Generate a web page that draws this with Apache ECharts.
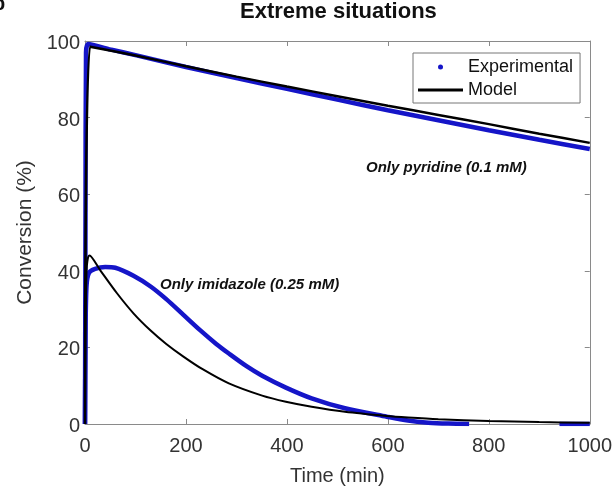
<!DOCTYPE html>
<html>
<head>
<meta charset="utf-8">
<script src="https://cdn.jsdelivr.net/npm/echarts@6/dist/echarts.min.js"></script>
<style>
  html, body {margin: 0; padding: 0; background: #fff;}
  #main {width: 615px; height: 491px;}
</style>
</head>
<body>
<div id="main"></div>
<script>
var myChart = echarts.init(document.getElementById('main'));

var fontName = 'Liberation Sans, Arial, sans-serif';

// x ticks / y ticks
var timeTicks = [0, 200, 400, 600, 800, 1000];
var convTicks = [0, 20, 40, 60, 80, 100];

// only pyridine (0.1 mM)
var pyrExpTime = [0, 1, 2, 6, 50, 100, 200, 300, 400, 500, 600, 700, 800, 900, 1000];
var pyrExpConv = [0, 55, 97, 99.2, 97.8, 96.3, 93.2, 90.3, 87.5, 84.7, 81.9, 79.3, 76.7, 74.2, 71.8];
var pyrModelTime = [0, 10, 100, 200, 300, 400, 500, 600, 700, 800, 900, 1000];
var pyrModelConv = [0, 98.5, 96.2, 93.4, 90.7, 88.1, 85.6, 83.1, 80.7, 78.3, 75.8, 73.4];

// only imidazole (0.25 mM)
var imiExpTime = [0, 1, 3, 8, 20, 40, 60, 96, 130, 161, 195, 228, 260, 285, 320, 351, 398, 449, 515, 598, 640, 680, 720, 761, 850, 940, 1000];
var imiExpConv = [0, 22, 36, 39.5, 40.5, 41, 40.8, 38.7, 35.9, 32.6, 28.5, 24.5, 20.9, 18.4, 15.1, 12.6, 9.5, 6.7, 4.1, 1.9, 0.9, 0.35, 0.1, 0, null, 0, 0];
var imiModelTime = [0, 3, 9, 31, 63, 96, 130, 161, 195, 233, 285, 351, 398, 449, 515, 598, 640, 700, 800, 900, 1000];
var imiModelConv = [0, 40, 44, 40, 34.2, 28.9, 24.4, 20.9, 17.6, 14.3, 10.6, 7.4, 5.8, 4.5, 3.2, 2.1, 1.7, 1.25, 0.8, 0.5, 0.3];

function pairs(xs, ys) {
    var arr = [];
    for (var i = 0; i < xs.length; i++) {
        arr.push([xs[i], ys[i]]);
    }
    return arr;
}

var boxLine = {show: true, onZero: false, lineStyle: {color: '#8a8a8a', width: 1}};
var tickIn = {show: true, inside: true, length: 5, lineStyle: {color: '#8a8a8a'}};

option = {
    animation: false,
    backgroundColor: '#fff',
    title: {
        text: 'Extreme situations',
        left: 240,
        top: 1,
        padding: 0,
        textStyle: {fontFamily: fontName, fontSize: 22, fontWeight: 'bold', color: '#111'}
    },
    legend: {
        orient: 'vertical',
        left: 413,
        top: 53,
        padding: [5, 7, 4, 5],
        itemGap: 5,
        itemWidth: 45,
        itemHeight: 5,
        borderColor: '#777',
        borderWidth: 1,
        borderRadius: 0,
        backgroundColor: '#fff',
        textStyle: {fontFamily: fontName, fontSize: 18, color: '#111', lineHeight: 18},
        data: [
            {name: 'Experimental', icon: 'circle'},
            {name: 'Model', icon: 'path://M0,0H45V3H0Z'}
        ]
    },
    grid: {left: 85, right: 22, top: 41, bottom: 61},
    xAxis: [
        {
            type: 'value',
            position: 'bottom',
            min: 0, max: 1000, interval: 200,
            axisLine: boxLine,
            axisTick: tickIn,
            splitLine: {show: false},
            axisLabel: {
                fontFamily: fontName, fontSize: 20, color: '#333', margin: 12,
                formatter: function (v) { return timeTicks.indexOf(v) > -1 ? String(v) : ''; }
            },
            name: 'Time (min)',
            nameLocation: 'middle',
            nameGap: 42,
            nameTextStyle: {fontFamily: fontName, fontSize: 20, color: '#333'}
        },
        {
            type: 'value',
            position: 'top',
            min: 0, max: 1000, interval: 200,
            axisLine: boxLine,
            axisTick: tickIn,
            axisLabel: {show: false},
            splitLine: {show: false}
        }
    ],
    yAxis: [
        {
            type: 'value',
            position: 'left',
            min: 0, max: 100, interval: 20,
            axisLine: boxLine,
            axisTick: tickIn,
            splitLine: {show: false},
            axisLabel: {
                fontFamily: fontName, fontSize: 20, color: '#333', margin: 5,
                verticalAlign: 'top', lineHeight: 5,
                formatter: function (v) { return convTicks.indexOf(v) > -1 ? String(v) : ''; }
            },
            name: 'Conversion (%)',
            nameLocation: 'middle',
            nameGap: 47,
            nameTextStyle: {fontFamily: fontName, fontSize: 21, color: '#333'}
        },
        {
            type: 'value',
            position: 'right',
            min: 0, max: 100, interval: 20,
            axisLine: boxLine,
            axisTick: tickIn,
            axisLabel: {show: false},
            splitLine: {show: false}
        }
    ],
    graphic: [
        {
            type: 'text', left: 366, top: 160,
            style: {text: 'Only pyridine (0.1 mM)', font: 'italic bold 15px ' + fontName, fill: '#111'}
        },
        {
            type: 'text', left: 160, top: 277,
            style: {text: 'Only imidazole (0.25 mM)', font: 'italic bold 15px ' + fontName, fill: '#111'}
        },
        {
            type: 'text', left: -7, top: -6,
            style: {text: 'b', font: 'bold 20px ' + fontName, fill: '#111'}
        }
    ],
    series: [
        {
            name: 'Experimental', type: 'line', color: '#1515c8',
            showSymbol: false, z: 2, smooth: 0.2,
            lineStyle: {width: 4.5, color: '#1515c8'},
            data: pairs(pyrExpTime, pyrExpConv)
        },
        {
            name: 'Experimental', type: 'line', color: '#1515c8',
            showSymbol: false, z: 2, connectNulls: false, smooth: 0.3,
            lineStyle: {width: 4.5, color: '#1515c8'},
            data: pairs(imiExpTime, imiExpConv)
        },
        {
            name: 'Model', type: 'line', color: '#000',
            showSymbol: false, z: 3, smooth: 0.2,
            lineStyle: {width: 2.5, color: '#000'},
            data: pairs(pyrModelTime, pyrModelConv)
        },
        {
            name: 'Model', type: 'line', color: '#000',
            showSymbol: false, z: 3, smooth: 0.3,
            lineStyle: {width: 2, color: '#000'},
            data: pairs(imiModelTime, imiModelConv)
        }
    ]
};

myChart.setOption(option);
</script>
</body>
</html>
